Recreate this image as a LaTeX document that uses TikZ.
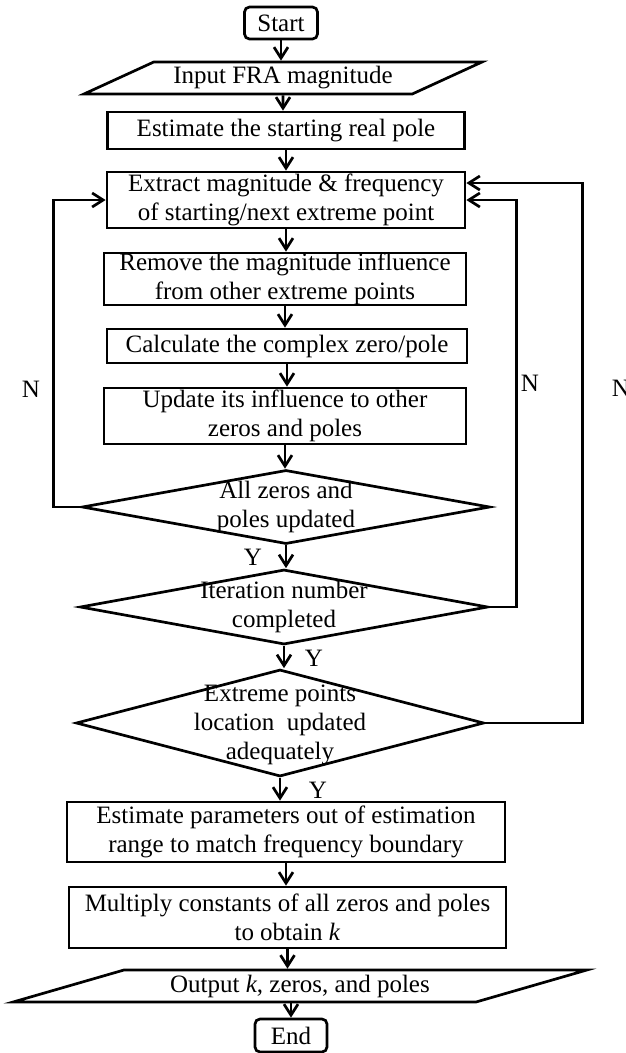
\documentclass[tikz,border=0pt]{standalone}
\usepackage{fontspec}
\setmainfont{Liberation Serif}
\usetikzlibrary{shapes.geometric,arrows.meta}

\begin{document}
\begin{tikzpicture}[x=1pt,y=-1pt,>={Straight Barb[length=11pt,width=14pt]},
  every node/.style={font=\fontsize{25}{29}\selectfont,inner sep=0pt,align=center},
  line/.style={line width=2.7pt},
  term/.style={draw,line,rounded corners=5pt,minimum width=73pt,minimum height=32pt},
  proc/.style={draw,line},
  io/.style={trapezium,draw,line,trapezium stretches=true,minimum height=32pt},
  decision/.style={diamond,draw,line,minimum width=408pt}]
\useasboundingbox (0,0) rectangle (626,1053);

% main column
\node[term] (start) at (281,23) {Start};
\node[io,minimum width=400pt,trapezium left angle=21,trapezium right angle=159] (input) at (283,78) {Input FRA magnitude};
\node[proc,minimum width=357pt,minimum height=37pt] (estpole) at (286,130.5) {Estimate the starting real pole};
\node[proc,minimum width=358pt,minimum height=56pt] (extract) at (286,200) {Extract magnitude \& frequency\\of starting/next extreme point};
\node[proc,minimum width=362pt,minimum height=52pt] (remove) at (285,279) {Remove the magnitude influence\\from other extreme points};
\node[proc,minimum width=360pt,minimum height=34pt] (calc) at (287,346) {Calculate the complex zero/pole};
\node[proc,minimum width=362pt,minimum height=56pt] (update) at (285,416) {Update its influence to other\\zeros and poles};

% checks
\node[decision,minimum height=74pt] (allupd) at (286,507) {};
\node (allupdtxt) at (allupd) {All zeros and\\poles updated};
\node[decision,minimum height=75pt] (iter) at (284,607) {};
\node (itertxt) at (iter) {Iteration number\\completed};
\node[decision,minimum height=107pt] (adeq) at (280,723) {};
\node (adeqtxt) at (280,725) {Extreme points\\location~ updated\\adequately};

\node[proc,minimum width=438pt,minimum height=60pt] (outrange) at (286,832) {Estimate parameters out of estimation\\range to match frequency boundary};
\node[proc,minimum width=437pt,minimum height=61pt] (mult) at (287.5,917.5) {Multiply constants of all zeros and poles\\to obtain \textit{k}};
\node[io,minimum width=577pt,trapezium left angle=15.5,trapezium right angle=164.5] (output) at (300,986) {Output \textit{k}, zeros, and poles};
\node[term,minimum width=72pt,minimum height=33pt] (end) at (291,1035.5) {End};

% labels
\node (y1) at (253,557) {Y};
\node (y2) at (314,658) {Y};
\node (y3) at (318,790) {Y};
\node (n1) at (31,389) {N};
\node (n2) at (530,383) {N};
\node (n3) at (621,388) {N};

% arrows
\draw[line,->] (start) -- (start |- input.north);
\draw[line,->] (input) -- (input |- estpole.north);
\draw[line,->] (estpole) -- (estpole |- extract.north);
\draw[line,->] (extract) -- (extract |- remove.north);
\draw[line,->] (remove) -- (remove |- calc.north);
\draw[line,->] (calc) -- (calc |- update.north);
\draw[line,->] (update) -- (update |- allupd.north);
\draw[line,->] (allupd) -- (allupd |- iter.north);
\draw[line,->] (iter) -- (iter |- adeq.north);
\draw[line,->] (adeq) -- (adeq |- outrange.north);
\draw[line,->] (outrange) -- (outrange |- mult.north);
\draw[line,->] (mult) -- (mult |- output.north);
\draw[line,->] (end |- output.south) -- (end);

% loops back
\draw[line,->] (allupd.west) -- ++(-27,0) |- (extract.west);
\draw[line,->] (iter.east) -- ++(27,0) |- (extract.east);
\draw[line,->] (adeq.east) -- ++(97,0) |- ([yshift=17pt]extract.east);
\end{tikzpicture}
\end{document}
